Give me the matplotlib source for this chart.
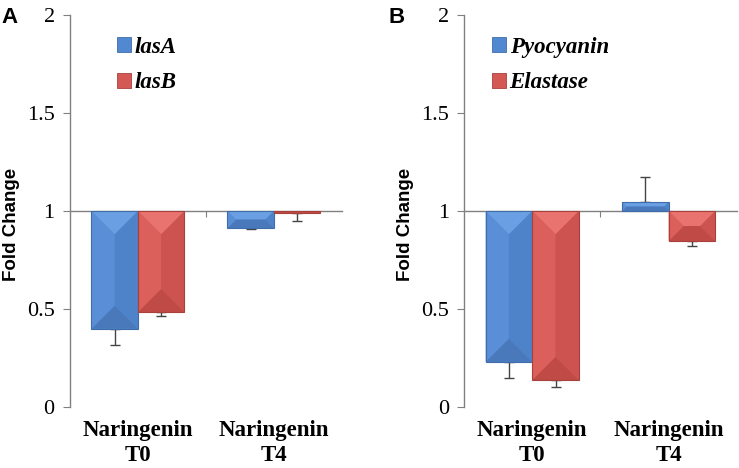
import numpy as np
import matplotlib
matplotlib.use("Agg")
import matplotlib.pyplot as plt
from matplotlib.patches import Polygon, Patch

# data
groups = ["Naringenin\nT0", "Naringenin\nT4"]

lasA = [0.40, 0.913]
lasA_err = [0.085, 0.005]
lasB = [0.485, 0.99]
lasB_err = [0.018, 0.04]

pyocyanin = [0.231, 1.046]
pyocyanin_err = [0.08, 0.13]
elastase = [0.138, 0.847]
elastase_err = [0.034, 0.024]

yticks = [0, 0.5, 1, 1.5, 2]
yticklabels = ["0", "0.5", "1", "1.5", "2"]

BLUE = dict(top="#6a9fe3", left="#5a8fd7", right="#4f83c9", bottom="#4a79bb", edge="#3f6cab", flat="#5288d0")
RED = dict(top="#e9736e", left="#db5f5a", right="#cc534f", bottom="#bf4a46", edge="#a8403c", flat="#d45854")

SERIF = "Liberation Serif"
SANS = "Liberation Sans"

fig = plt.figure(figsize=(7.39, 4.68), dpi=100)


def bevel(ax, bars, col):
    # split each bar into four faces so it looks like the excel bevel
    fig.canvas.draw()
    inv = ax.transData.inverted()
    for b in bars:
        (x0, y0), (x1, y1) = ax.transData.transform(
            [(b.get_x(), b.get_y()), (b.get_x() + b.get_width(), b.get_y() + b.get_height())])
        x0, x1 = min(x0, x1), max(x0, x1)
        y0, y1 = min(y0, y1), max(y0, y1)
        i = min(x1 - x0, y1 - y0) / 2.0
        faces = {
            "top": [(x0, y1), (x1, y1), (x1 - i, y1 - i), (x0 + i, y1 - i)],
            "bottom": [(x0, y0), (x1, y0), (x1 - i, y0 + i), (x0 + i, y0 + i)],
            "left": [(x0, y0), (x0, y1), (x0 + i, y1 - i), (x0 + i, y0 + i)],
            "right": [(x1, y0), (x1, y1), (x1 - i, y1 - i), (x1 - i, y0 + i)],
        }
        for k, pts in faces.items():
            ax.add_patch(Polygon(inv.transform(pts), closed=True, facecolor=col[k],
                                 edgecolor="none", zorder=3))
        ax.add_patch(Polygon(inv.transform([(x0, y0), (x1, y0), (x1, y1), (x0, y1)]),
                             closed=True, facecolor="none", edgecolor=col["edge"],
                             lw=0.8, zorder=4))


def panel(rect, s1, e1, s2, e2, names, letter, letter_x, leg_x):
    ax = fig.add_axes(rect)
    x = np.arange(len(groups))
    w = 0.342
    ax.set_xlim(-0.5, 1.5)
    ax.set_ylim(0, 2)

    h1 = [v - 1 for v in s1]
    h2 = [v - 1 for v in s2]
    b1 = ax.bar(x - w / 2, h1, w, bottom=1, color=BLUE["flat"], zorder=2)
    b2 = ax.bar(x + w / 2, h2, w, bottom=1, color=RED["flat"], zorder=2)

    # one-sided error bars, pointing away from 1
    for xs, vals, errs in [(x - w / 2, s1, e1), (x + w / 2, s2, e2)]:
        lo = [e if v < 1 else 0 for v, e in zip(vals, errs)]
        hi = [e if v >= 1 else 0 for v, e in zip(vals, errs)]
        ax.errorbar(xs, vals, yerr=[lo, hi], fmt="none", ecolor="#444444",
                    elinewidth=1, capsize=3.5, capthick=1, zorder=1)

    for s in ["top", "right", "bottom"]:
        ax.spines[s].set_visible(False)
    ax.spines["left"].set_color("#808080")
    ax.spines["left"].set_linewidth(1)

    ax.set_yticks(yticks)
    ax.set_yticklabels(yticklabels, fontfamily=SERIF, fontsize=16)
    ax.tick_params(axis="y", direction="out", length=5, color="#808080", pad=6)

    ax.set_xticks(x)
    ax.set_xticklabels(groups, fontfamily=SERIF, fontweight="bold", fontsize=16.5,
                       linespacing=1.3)
    ax.tick_params(axis="x", length=0, pad=9)

    # category axis crossing at 1, ticks between the groups hang down
    sec = ax.secondary_xaxis(0.4999)
    sec.set_xticks([0.5])
    sec.set_xticklabels([""])
    sec.tick_params(direction="out", length=4.5, color="#808080")
    for s in sec.spines.values():
        s.set_color("#808080")
        s.set_linewidth(1)

    ax.set_ylabel("Fold Change", fontfamily=SANS, fontweight="bold", fontsize=13.5)
    ax.yaxis.set_label_coords(-0.185, 0.465)

    handles = [Patch(facecolor=BLUE["flat"], edgecolor=BLUE["edge"], lw=0.6),
               Patch(facecolor=RED["flat"], edgecolor=RED["edge"], lw=0.6)]
    ax.legend(handles, names, loc="upper left", bbox_to_anchor=(leg_x, 0.945),
              frameon=False, borderpad=0, borderaxespad=0, handlelength=0.62,
              handleheight=0.62, handletextpad=0.15, labelspacing=0.65,
              prop=dict(family=SERIF, style="italic", weight="bold", size=16.5))

    fig.text(letter_x, 0.985, letter, fontfamily=SANS, fontweight="bold",
             fontsize=16, va="top", ha="left")

    bevel(ax, b1, BLUE)
    bevel(ax, b2, RED)
    return ax


panel([0.0947, 0.130, 0.368, 0.838], lasA, lasA_err, lasB, lasB_err,
      ["lasA", "lasB"], "A", 0.002, 0.172)
panel([0.628, 0.130, 0.369, 0.838], pyocyanin, pyocyanin_err, elastase, elastase_err,
      ["Pyocyanin", "Elastase"], "B", 0.526, 0.102)

fig.savefig("out.png", dpi=100)
